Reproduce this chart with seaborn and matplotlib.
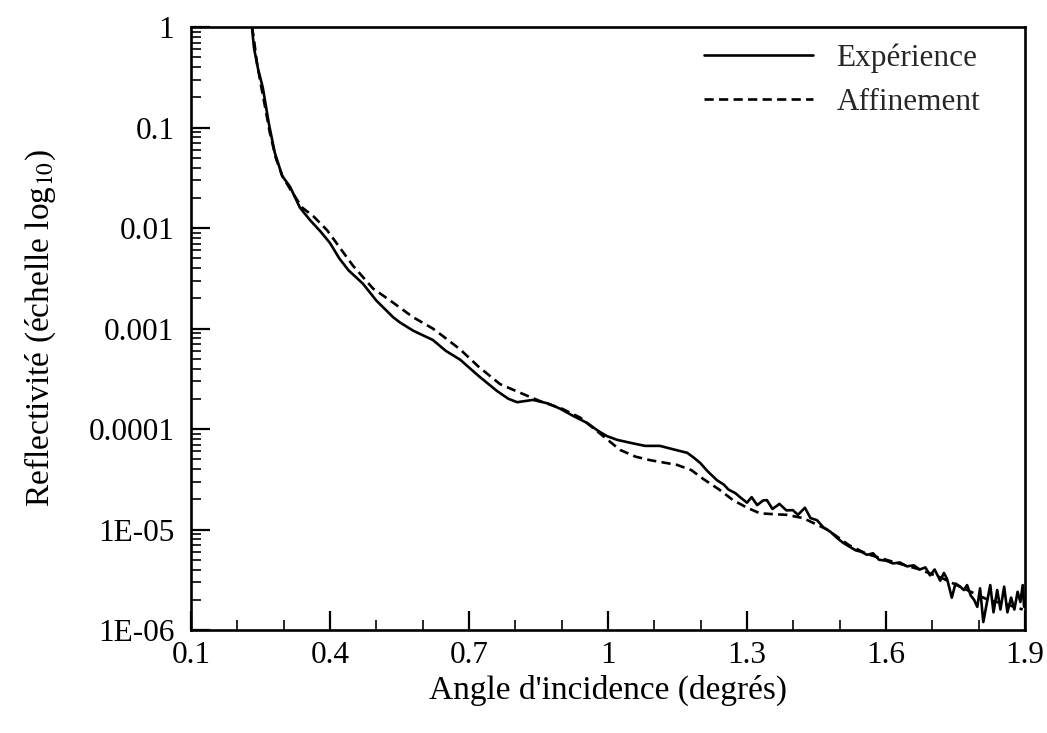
import matplotlib
matplotlib.use("Agg")
import matplotlib.pyplot as plt
import matplotlib.ticker as mticker
import seaborn as sns
import pandas as pd

# ---------------- data ----------------
exp_angle = [0.232, 0.236, 0.245, 0.255, 0.268, 0.281, 0.297, 0.314, 0.335, 0.357,
             0.380, 0.400, 0.420, 0.440, 0.471, 0.500, 0.536, 0.551, 0.580, 0.622,
             0.650, 0.681, 0.720, 0.760, 0.785, 0.804, 0.838, 0.870, 0.896, 0.925,
             0.955, 0.980, 0.998, 1.020, 1.054, 1.080, 1.112, 1.140, 1.171, 1.185,
             1.199, 1.215, 1.235, 1.250, 1.260, 1.275, 1.285, 1.300, 1.310, 1.322,
             1.335, 1.343, 1.355, 1.370, 1.385, 1.399, 1.410, 1.425, 1.437, 1.451,
             1.465, 1.480, 1.495, 1.507, 1.520, 1.535, 1.547, 1.559, 1.572, 1.585,
             1.600, 1.615, 1.630, 1.645, 1.660, 1.673, 1.685, 1.695, 1.705, 1.717,
             1.725, 1.732, 1.742, 1.750, 1.760, 1.768, 1.775, 1.783, 1.790, 1.797,
             1.803, 1.810, 1.818, 1.825, 1.832, 1.840, 1.847, 1.855, 1.862, 1.870,
             1.877, 1.884, 1.890, 1.895, 1.898]
exp_refl = [0.95, 0.62, 0.38, 0.25, 0.11, 0.056, 0.033, 0.0257, 0.016, 0.012,
            0.0092, 0.0071, 0.0050, 0.0038, 0.0028, 0.0019, 0.0013, 0.00115, 0.00095, 0.00077,
            0.00060, 0.00049, 0.00034, 0.00024, 0.00020, 0.000185, 0.000195, 0.00018, 0.00016, 0.000135,
            0.000115, 0.000095, 0.000085, 0.000078, 0.000072, 0.000068, 0.000068, 0.000063, 0.000058, 0.000052,
            0.000046, 0.000038, 0.000031, 0.000028, 0.000025, 0.000023, 0.000021, 0.0000185, 0.000021, 0.0000175,
            0.0000195, 0.0000196, 0.000016, 0.000018, 0.0000155, 0.0000156, 0.000014, 0.0000165, 0.000013, 0.0000124,
            0.0000105, 0.0000095, 0.0000082, 0.0000074, 0.0000068, 0.0000062, 0.0000060, 0.0000056, 0.0000058, 0.0000050,
            0.0000049, 0.0000046, 0.0000047, 0.0000043, 0.0000044, 0.0000040, 0.0000042, 0.0000035, 0.0000040, 0.0000031,
            0.0000037, 0.0000032, 0.0000021, 0.0000029, 0.0000027, 0.0000025, 0.0000028, 0.0000022, 0.0000020, 0.0000017,
            0.0000026, 0.0000012, 0.0000019, 0.0000028, 0.0000015, 0.0000025, 0.0000016, 0.0000027, 0.0000015, 0.0000021,
            0.0000016, 0.0000024, 0.0000019, 0.0000028, 0.0000017]

fit_angle = [0.232, 0.236, 0.242, 0.250, 0.260, 0.270, 0.283, 0.297, 0.315, 0.340,
             0.365, 0.394, 0.420, 0.450, 0.493, 0.530, 0.579, 0.622, 0.650, 0.681,
             0.720, 0.767, 0.810, 0.853, 0.900, 0.940, 0.983, 1.026, 1.060, 1.091,
             1.149, 1.180, 1.205, 1.240, 1.270, 1.300, 1.328, 1.360, 1.386, 1.421,
             1.473, 1.520, 1.559, 1.620, 1.673, 1.720, 1.775, 1.820, 1.860, 1.895]
fit_refl = [1.0, 0.75, 0.45, 0.28, 0.16, 0.09, 0.05, 0.033, 0.024, 0.016,
            0.013, 0.0095, 0.0065, 0.0042, 0.0025, 0.0019, 0.0013, 0.0010, 0.00080, 0.00062,
            0.00042, 0.00028, 0.00023, 0.00019, 0.00016, 0.00013, 0.000090, 0.000062, 0.000053, 0.000049,
            0.000044, 0.000039, 0.000032, 0.000025, 0.0000196, 0.0000165, 0.0000145, 0.0000142, 0.0000140, 0.0000130,
            0.0000100, 0.0000070, 0.0000057, 0.0000047, 0.0000040, 0.0000033, 0.0000025, 0.0000020, 0.0000018, 0.0000016]

x_ticks = [0.1, 0.4, 0.7, 1.0, 1.3, 1.6, 1.9]
x_tick_labels = ["0.1", "0.4", "0.7", "1", "1.3", "1.6", "1.9"]
y_ticks = [1e-6, 1e-5, 1e-4, 1e-3, 1e-2, 1e-1, 1]
y_tick_labels = ["1E-06", "1E-05", "0.0001", "0.001", "0.01", "0.1", "1"]

# ---------------- style ----------------
sns.set_theme(style="ticks")
plt.rcParams["font.family"] = ["Liberation Serif", "DejaVu Serif"]
plt.rcParams["mathtext.fontset"] = "stix"

FS = 22.5

fig = plt.figure(figsize=(10.47, 7.33), dpi=100)
ax = fig.add_axes([0.1824, 0.1405, 0.7966, 0.8225])

df_exp = pd.DataFrame({"angle": exp_angle, "refl": exp_refl})
df_fit = pd.DataFrame({"angle": fit_angle, "refl": fit_refl})

sns.lineplot(data=df_exp, x="angle", y="refl", ax=ax, color="black",
             linewidth=1.9, label="Expérience", sort=False, estimator=None)
sns.lineplot(data=df_fit, x="angle", y="refl", ax=ax, color="black",
             linewidth=1.9, label="Affinement", sort=False, estimator=None)
ax.lines[1].set_dashes((3.5, 2))

ax.set_yscale("log")
ax.set_xlim(0.1, 1.9)
ax.set_ylim(1e-6, 1)

ax.set_xticks(x_ticks)
ax.set_xticklabels(x_tick_labels)
ax.xaxis.set_minor_locator(mticker.MultipleLocator(0.1))
ax.set_yticks(y_ticks)
ax.set_yticklabels(y_tick_labels)
ax.yaxis.set_minor_locator(mticker.LogLocator(base=10, subs=range(2, 10), numticks=20))
ax.yaxis.set_minor_formatter(mticker.NullFormatter())

ax.tick_params(axis="both", which="major", direction="in", length=14, width=1.6,
               labelsize=FS, colors="black")
ax.tick_params(axis="x", which="major", pad=8)
ax.tick_params(axis="y", which="major", pad=12)
ax.tick_params(axis="both", which="minor", direction="in", length=7, width=1.4)
ax.tick_params(top=False, right=False, which="both")

for sp in ax.spines.values():
    sp.set_linewidth(1.9)
    sp.set_color("black")
    sp.set_visible(True)

ax.set_xlabel("Angle d'incidence (degrés)", fontsize=24, labelpad=3, color="black")
ax.set_ylabel("Reflectivité (échelle log$_{10}$)", fontsize=24, labelpad=22, color="black")

leg = ax.legend(loc="upper right", frameon=False, fontsize=FS, handlelength=3.5,
                handletextpad=0.75, labelspacing=0.5, bbox_to_anchor=(0.98, 1.02))
for h in leg.get_lines():
    h.set_linewidth(1.9)
leg.get_lines()[1].set_dashes((3.5, 2))

fig.savefig("out.png", dpi=100)
